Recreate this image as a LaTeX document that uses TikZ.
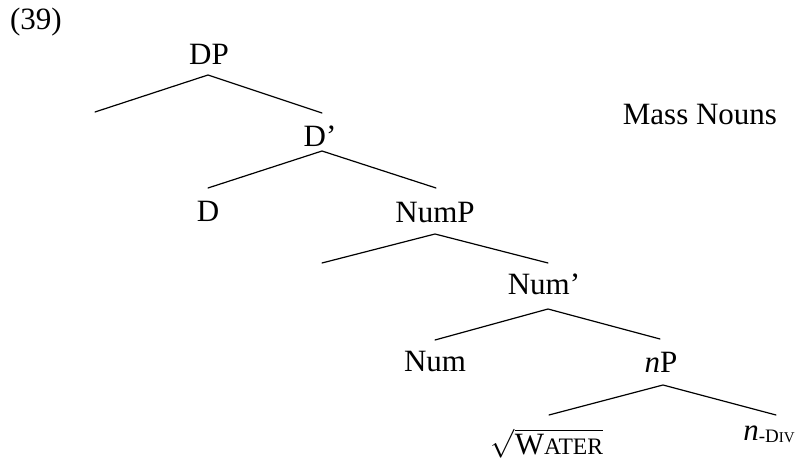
\documentclass[tikz,border=0pt]{standalone}
\usepackage{fontspec}
\setmainfont{Liberation Serif}
\newcommand{\mainsz}{\fontsize{15.5pt}{18pt}\selectfont}
\newcommand{\scA}{\fontsize{11.8pt}{13pt}\selectfont}
\newcommand{\subD}{\fontsize{9.5pt}{11pt}\selectfont}
\newcommand{\subIV}{\fontsize{7.5pt}{9pt}\selectfont}
\begin{document}
\begin{tikzpicture}[x=0.5pt,y=-0.5pt,
  lbl/.style={inner sep=0pt, anchor=base, font=\mainsz},
  branch/.style={line width=0.6pt, line cap=round}]
\useasboundingbox (0,0) rectangle (805,459);
% labels
\node[lbl] (ex) at (36,30) {(39)};
\node[lbl] (DP) at (209,65) {DP};
\node[lbl] (Dbar) at (320,147) {D’};
\node[lbl] (D) at (208,222) {D};
\node[lbl] (NumP) at (435,223) {NumP};
\node[lbl] (Numbar) at (544,295) {Num’};
\node[lbl] (Num) at (435,372) {Num};
\node[lbl] (nP) at (661,373) {\textit{n}P};
\node[lbl] (root) at (547,455) {$\sqrt{\hbox{\mainsz W\scA ATER}}$};
\node[lbl, anchor=base west] (ndiv) at (743,441) {\textit{n}\raisebox{-1pt}{\subD -D\subIV IV}};
\node[lbl] (mass) at (700,125) {Mass Nouns};
% branch points
\coordinate (DPb) at (208,75);
\coordinate (specDP) at (95,112);
\coordinate (Dbart) at (322,113);
\coordinate (Dbarb) at (322,151);
\coordinate (Dt) at (208,188);
\coordinate (NumPt) at (436,188);
\coordinate (NumPb) at (435,234);
\coordinate (specNumP) at (322,263);
\coordinate (Numbart) at (548,263);
\coordinate (Numbarb) at (548,309);
\coordinate (Numt) at (435,340);
\coordinate (nPt) at (660,339);
\coordinate (nPb) at (663,385);
\coordinate (roott) at (549,415);
\coordinate (ndivt) at (776,415);
% branches
\draw[branch] (specDP) -- (DPb) -- (Dbart);
\draw[branch] (Dt) -- (Dbarb) -- (NumPt);
\draw[branch] (specNumP) -- (NumPb) -- (Numbart);
\draw[branch] (Numt) -- (Numbarb) -- (nPt);
\draw[branch] (roott) -- (nPb) -- (ndivt);
\end{tikzpicture}
\end{document}
